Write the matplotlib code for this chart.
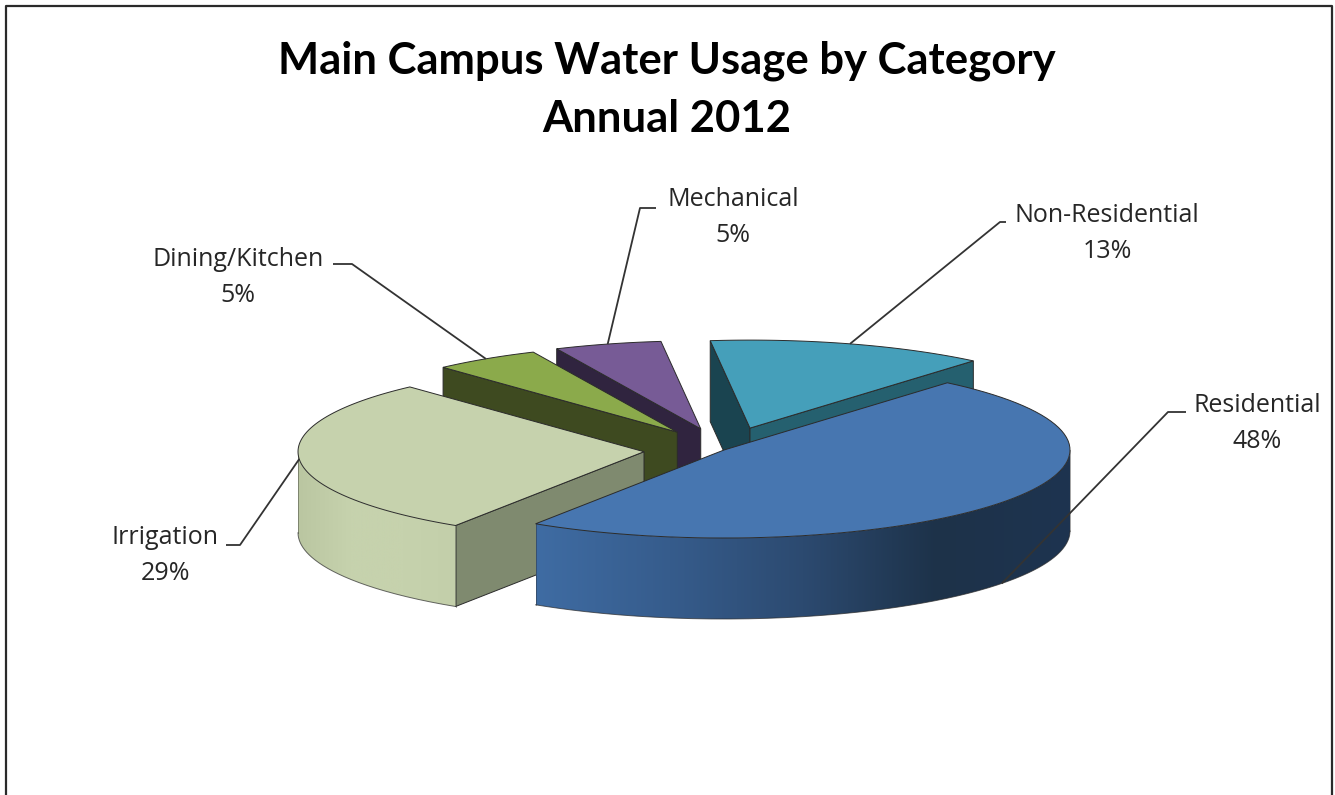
import numpy as np
import matplotlib
matplotlib.use("Agg")
import matplotlib.pyplot as plt
from matplotlib.colors import LinearSegmentedColormap
from matplotlib.patches import Polygon

# Water usage shares, clockwise from the upper right of the pie
categories = ["Residential", "Irrigation", "Dining/Kitchen", "Mechanical", "Non-Residential"]
shares = [48, 29, 5, 5, 13]
explode = [0.0, 0.232, 0.244, 0.25, 0.26]

top_colors = ["#4776B0", "#C6D2AD", "#8BAA4B", "#775B96", "#459FBA"]
# cut face on the clockwise-first edge, then on the other edge
first_face = ["#2F4D75", "#7F8A6F", "#3E4A20", "#30243F", "#1A4450"]
second_face = ["#2F4D75", "#7F8A6F", "#3E4A20", "#30243F", "#25606F"]
side_colors = [
    ["#3F6CA3", "#365C8C", "#2C4A70", "#1D3249", "#1E3450"],
    ["#BAC6A1", "#C6D2AD", "#C6D2AD", "#C3CFAA"],
    ["#3E4A20", "#3E4A20"],
    ["#30243F", "#30243F"],
    ["#25606F", "#25606F"],
]

# label box centres and leader elbows, in pixels
label_pos = [(1257, 405), (165, 538), (238, 259), (733, 199), (1107, 216)]
elbows = [[(1168, 412), (1186, 412)], [(240, 545), (226, 545)],
          [(352, 264), (333, 264)], [(640, 208), (656, 208)], [(1000, 222), (1006, 222)]]
leader_on_side = [True, False, False, False, False]

CX, CY = 724, 450
RX, RY = 346, 88
DEPTH = 81
START = 49.8
EDGE = "#2b2b2b"

plt.rcParams["font.family"] = ["Open Sans", "DejaVu Sans"]

fig = plt.figure(figsize=(13.35, 7.95), dpi=100)
ax = fig.add_axes([0, 0, 1, 1])


def rim(apex, deg, drop=0.0):
    t = np.radians(deg)
    return apex[0] + RX * np.cos(t), apex[1] - RY * np.sin(t) + drop


def face(apex, deg, color, z):
    p = rim(apex, deg)
    pts = [apex, p, (p[0], p[1] + DEPTH), (apex[0], apex[1] + DEPTH)]
    ax.add_patch(Polygon(pts, closed=True, fc=color, ec=EDGE, lw=0.7, zorder=z))


# slice angles come straight from the shares
edges = START - np.cumsum([0] + shares) * 3.6
apexes = []
for i in range(len(shares)):
    mid = np.radians((edges[i] + edges[i + 1]) / 2)
    apexes.append((CX + explode[i] * RX * np.cos(mid), CY - explode[i] * RY * np.sin(mid)))

# back slices first, Residential last so it sits in front
for z, i in enumerate([4, 3, 2, 1, 0]):
    a1, a2 = edges[i], edges[i + 1]
    apex = apexes[i]
    base = 2 + z * 3

    if np.cos(np.radians(a1)) < 0:
        face(apex, a1, first_face[i], base)
    if np.cos(np.radians(a2)) > 0:
        face(apex, a2, second_face[i], base)

    # outer wall: only the part of the arc on the near side of the pie
    lo = max(a2, -180)
    hi = min(a1, 0)
    if hi > lo:
        angs = np.linspace(hi, lo, 200)
        xs, ys = rim(apex, angs)
        cmap = LinearSegmentedColormap.from_list("side", side_colors[i])
        wall = np.concatenate([np.column_stack([xs, ys]),
                               np.column_stack([xs[::-1], ys[::-1] + DEPTH])])
        clip = Polygon(wall, closed=True, fc="none", ec="none", transform=ax.transData)
        ax.add_patch(clip)
        im = ax.imshow(np.linspace(0, 1, 256)[None, :], cmap=cmap, aspect="auto", zorder=base,
                       extent=[xs.min(), xs.max(), ys.max() + DEPTH, ys.min()])
        im.set_clip_path(clip)
        ax.plot(xs, ys + DEPTH, color=EDGE, lw=0.7, alpha=0.7, zorder=base)
        ax.plot([xs[0], xs[0]], [ys[0], ys[0] + DEPTH], color=EDGE, lw=0.6, alpha=0.5, zorder=base)
        ax.plot([xs[-1], xs[-1]], [ys[-1], ys[-1] + DEPTH], color=EDGE, lw=0.6, alpha=0.5, zorder=base)

    # top surface
    angs = np.linspace(a1, a2, 80)
    xs, ys = rim(apex, angs)
    pts = [apex] + list(zip(xs, ys))
    ax.add_patch(Polygon(pts, closed=True, fc=top_colors[i], ec=EDGE, lw=0.7, zorder=base + 1))

# leader lines and data labels
for i, name in enumerate(categories):
    mid = (edges[i] + edges[i + 1]) / 2
    start = rim(apexes[i], mid, DEPTH if leader_on_side[i] else 0)
    path = [start] + elbows[i]
    ax.plot(*zip(*path), color="#333333", lw=1.3, zorder=30, solid_capstyle="butt")
    x, y = label_pos[i]
    ax.text(x, y, name, ha="center", va="center", fontsize=18, color="#262626", zorder=31)
    ax.text(x, y + 36, f"{shares[i]}%", ha="center", va="center", fontsize=18,
            color="#262626", zorder=31)

ax.text(667, 61, "Main Campus Water Usage by Category", ha="center", va="center",
        fontsize=31.4, fontweight="bold", color="black", family=["Lato", "DejaVu Sans"])
ax.text(667, 119, "Annual 2012", ha="center", va="center",
        fontsize=31.4, fontweight="bold", color="black", family=["Lato", "DejaVu Sans"])

# chart frame, runs off the bottom edge
ax.plot([6, 6, 1332, 1332], [795, 6, 6, 795], color="#2a2a2a", lw=1.6, zorder=40)

ax.set_xlim(0, 1335)
ax.set_ylim(795, 0)
ax.axis("off")

fig.savefig("out.png", dpi=100, facecolor="white")
